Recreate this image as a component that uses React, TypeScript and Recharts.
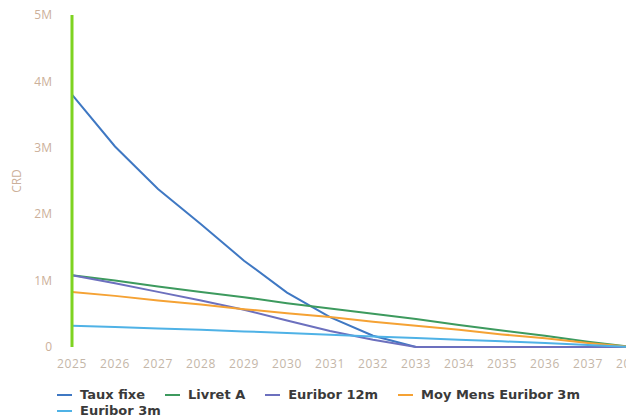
import { LineChart, Line, XAxis, YAxis } from 'recharts';

// Capital restant dû (millions) per year, one array per financing option
const years = ['2025', '2026', '2027', '2028', '2029', '2030', '2031', '2032', '2033', '2034', '2035', '2036', '2037', '2038'];
const tauxFixe = [3.8, 3.02, 2.38, 1.85, 1.3, 0.82, 0.45, 0.17, 0, 0, 0, 0, 0, 0];
const livretA = [1.08, 1.0, 0.91, 0.83, 0.75, 0.66, 0.58, 0.5, 0.42, 0.33, 0.25, 0.17, 0.08, 0];
const euribor12m = [1.08, 0.96, 0.83, 0.7, 0.56, 0.4, 0.24, 0.11, 0, 0, 0, 0, 0, 0];
const moyMensEuribor3m = [0.83, 0.77, 0.7, 0.64, 0.57, 0.51, 0.45, 0.38, 0.32, 0.26, 0.19, 0.13, 0.06, 0];
const euribor3m = [0.32, 0.3, 0.28, 0.26, 0.235, 0.21, 0.185, 0.16, 0.135, 0.11, 0.085, 0.06, 0.03, 0];
const yTicks = [0, 1, 2, 3, 4, 5];

const series = [
    { key: 'tauxFixe', name: 'Taux fixe', color: '#3f78c3', values: tauxFixe },
    { key: 'livretA', name: 'Livret A', color: '#3d9a5e', values: livretA },
    { key: 'euribor12m', name: 'Euribor 12m', color: '#6c70be', values: euribor12m },
    { key: 'moyMens', name: 'Moy Mens Euribor 3m', color: '#f5a234', values: moyMensEuribor3m },
    { key: 'euribor3m', name: 'Euribor 3m', color: '#4fb2e6', values: euribor3m },
];

const data = years.map((year, i) => {
    const row: Record<string, string | number> = { year };
    series.forEach(s => { row[s.key] = s.values[i]; });
    return row;
});

const font = '"Open Sans", "DejaVu Sans", sans-serif';
const legendFont = '"DejaVu Sans", sans-serif';

export default function App() {
    return (
        <div style={{ position: 'absolute', left: 0, top: 0, width: 626, height: 417, overflow: 'hidden', background: '#fff', fontFamily: font }}>
            <LineChart width={660} height={377} data={data} margin={{ top: 15, right: 29, bottom: 0, left: 0 }}>
                <XAxis
                    dataKey="year"
                    height={30}
                    axisLine={false}
                    tickLine={false}
                    tickSize={0}
                    tickMargin={12}
                    interval={0}
                    tick={{ fill: '#c4b6a8', fontSize: 12, fontFamily: font, letterSpacing: 0.6 }}
                />
                <YAxis
                    width={72}
                    domain={[0, 5]}
                    ticks={yTicks}
                    tickFormatter={(v: number) => (v === 0 ? '0' : `${v}M`)}
                    axisLine={{ stroke: '#7ed321', strokeWidth: 3 }}
                    tickLine={false}
                    tickSize={0}
                    tickMargin={20}
                    tick={{ fill: '#ccb09a', fontSize: 12, fontFamily: font }}
                    label={{
                        value: 'CRD',
                        content: () => (
                            <text x={18} y={181} transform="rotate(-90 18 181)" textAnchor="middle" dominantBaseline="middle" fill="#ccb09a" fontSize={12} fontFamily={font}>
                                CRD
                            </text>
                        ),
                    }}
                />
                {series.map(s => (
                    <Line
                        key={s.key}
                        type="linear"
                        dataKey={s.key}
                        name={s.name}
                        stroke={s.color}
                        strokeWidth={2}
                        dot={false}
                        isAnimationActive={false}
                    />
                ))}
            </LineChart>
            <div style={{ position: 'absolute', left: 57, top: 387, width: 560, display: 'flex', flexWrap: 'wrap', columnGap: 20, lineHeight: '16px' }}>
                {series.map(s => (
                    <div key={s.key} style={{ display: 'flex', alignItems: 'center' }}>
                        <span style={{ display: 'inline-block', width: 15, height: 2, background: s.color, marginRight: 8 }} />
                        <span style={{ fontSize: 13, fontWeight: 700, color: '#3a3a3a', fontFamily: legendFont }}>{s.name}</span>
                    </div>
                ))}
            </div>
        </div>
    );
}
